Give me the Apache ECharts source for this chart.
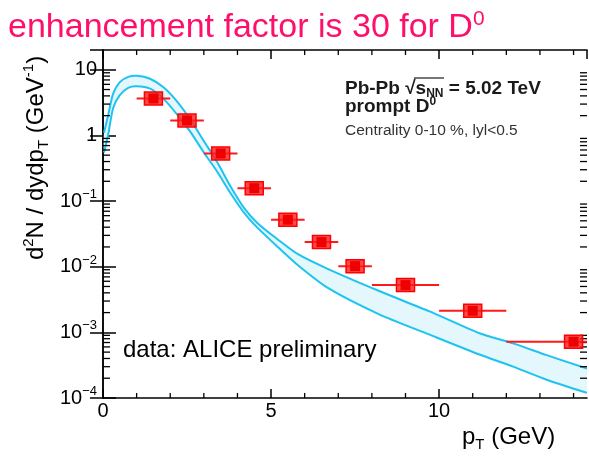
<!DOCTYPE html>
<html>
<head>
<meta charset="utf-8">
<script src="https://cdn.jsdelivr.net/npm/echarts@6/dist/echarts.min.js"></script>
<style>
html,body{margin:0;padding:0;background:#fff;}
#chart{width:589px;height:456px;}
</style>
</head>
<body>
<div id="chart"></div>
<script>
// ---- data ----
const binLo    = [1, 2, 3, 4, 5, 6, 7, 8, 10, 12];
const binHi    = [2, 3, 4, 5, 6, 7, 8, 10, 12, 16];
const binPt    = [1.5, 2.5, 3.5, 4.5, 5.5, 6.5, 7.5, 9, 11, 14];
const yieldD0  = [3.65, 1.69, 0.53, 0.157, 0.052, 0.0237, 0.0102, 0.00525, 0.00213, 0.00072];

const modelPt    = [0.03, 0.15, 0.3, 0.5, 0.75, 1.0, 1.4, 1.8, 2.2, 2.6, 3.0, 3.4, 3.8, 4.2, 4.6, 5.2, 5.8, 6.7, 8.2, 9.7, 11.2, 12.2, 13.2, 14.4];
const modelUpper = [1.1, 2.0, 4.3, 6.5, 7.8, 8.1, 7.3, 5.4, 3.3, 1.75, 0.82, 0.39, 0.165, 0.078, 0.046, 0.026, 0.0155, 0.0092, 0.0043, 0.0021, 0.00097, 0.00068, 0.00045, 0.00028];
const modelLower = [0.55, 1.0, 2.6, 4.1, 5.3, 5.6, 5.15, 3.6, 2.1, 1.13, 0.55, 0.28, 0.13, 0.066, 0.039, 0.020, 0.0105, 0.0047, 0.0019, 0.00093, 0.00046, 0.00030, 0.00019, 0.00012];

const xMin = 0, xMax = 14.4, xMajor = 5;
const yMin = 1e-4, yMax = 20;
const xMinorTicks = [1, 2, 3, 4, 6, 7, 8, 9, 11, 12, 13, 14];
const yDecades = [1e-4, 1e-3, 1e-2, 1e-1, 1, 10];
const yMinorMult = [2, 3, 4, 5, 6, 7, 8, 9];

const FONT = '"Liberation Sans", Arial, Helvetica, sans-serif';
const RED = '#ff0000';
const CYAN = '#1ec3f0';

const yMinorTicks = [];
yDecades.forEach(d => yMinorMult.forEach(m => { const v = d * m; if (v < yMax) yMinorTicks.push(v); }));

function yLabel(v) {
  const e = Math.round(Math.log10(v));
  if (Math.abs(Math.log10(v) - e) > 1e-6) return '';
  if (e === 0) return '1';
  if (e === 1) return '10';
  return '10{sup|\u2212' + (-e) + '}';
}

const chart = echarts.init(document.getElementById('chart'), null, {renderer: 'canvas'});

const axisLineStyle = {color: '#000', width: 1.5};

const option = {
  animation: false,
  backgroundColor: '#fff',
  grid: {left: 103, right: 2, top: 50, bottom: 58, containLabel: false},
  xAxis: [
    {
      type: 'value', position: 'bottom', min: xMin, max: xMax, interval: xMajor,
      axisLine: {show: true, lineStyle: axisLineStyle},
      axisTick: {show: true, inside: true, length: 9, lineStyle: {color: '#000', width: 1.5}},
      axisLabel: {
        show: true, margin: 3, fontSize: 20, fontFamily: FONT, color: '#000', showMaxLabel: false,
        formatter: v => (Math.abs(v % xMajor) < 1e-9 ? String(v) : '')
      },
      splitLine: {show: false}
    },
    {
      type: 'value', position: 'top', min: xMin, max: xMax, interval: xMajor,
      axisLine: {show: true, lineStyle: axisLineStyle},
      axisTick: {show: true, inside: true, length: 9, lineStyle: {color: '#000', width: 1.5}},
      axisLabel: {show: false},
      splitLine: {show: false}
    }
  ],
  yAxis: [
    {
      type: 'log', logBase: 10, position: 'left', min: yMin, max: yMax,
      axisLine: {show: true, lineStyle: axisLineStyle},
      axisTick: {show: true, inside: true, length: 13, lineStyle: {color: '#000', width: 1.5}},
      axisLabel: {
        show: true, margin: 6, fontSize: 20, fontFamily: FONT, color: '#000', showMaxLabel: false,
        lineHeight: 26,
        formatter: yLabel,
        rich: {sup: {fontSize: 13, fontFamily: FONT, color: '#000', verticalAlign: 'top', lineHeight: 14}}
      },
      splitLine: {show: false}
    },
    {
      type: 'log', logBase: 10, position: 'right', min: yMin, max: yMax,
      axisLine: {show: true, lineStyle: axisLineStyle},
      axisTick: {show: true, inside: true, length: 13, lineStyle: {color: '#000', width: 1.5}},
      axisLabel: {show: false},
      splitLine: {show: false}
    }
  ],
  series: [
    {
      type: 'custom', xAxisIndex: 0, yAxisIndex: 0, silent: true, z: 3,
      data: [0],
      renderItem: function (params, api) {
        const children = [];
        const st = {stroke: '#000', lineWidth: 1.3};
        yMinorTicks.forEach(v => {
          const pL = api.coord([xMin, v]);
          const pR = api.coord([xMax, v]);
          children.push({type: 'line', shape: {x1: pL[0], y1: pL[1], x2: pL[0] + 7, y2: pL[1]}, style: st});
          children.push({type: 'line', shape: {x1: pR[0], y1: pR[1], x2: pR[0] - 7, y2: pR[1]}, style: st});
        });
        xMinorTicks.forEach(v => {
          const pB = api.coord([v, yMin]);
          const pT = api.coord([v, yMax]);
          children.push({type: 'line', shape: {x1: pB[0], y1: pB[1], x2: pB[0], y2: pB[1] - 5}, style: st});
          children.push({type: 'line', shape: {x1: pT[0], y1: pT[1], x2: pT[0], y2: pT[1] + 5}, style: st});
        });
        return {type: 'group', children: children};
      }
    },
    {
      type: 'custom', xAxisIndex: 0, yAxisIndex: 0, silent: true, clip: true, z: 2,
      data: [0],
      renderItem: function (params, api) {
        const up = modelPt.map((x, i) => api.coord([x, modelUpper[i]]));
        const lo = modelPt.map((x, i) => api.coord([x, modelLower[i]]));
        const poly = up.concat(lo.slice().reverse());
        return {
          type: 'group',
          children: [
            {type: 'polygon', shape: {points: poly, smooth: 0.25}, style: {fill: '#e3f7fd', stroke: null}},
            {type: 'polyline', shape: {points: up, smooth: 0.25}, style: {fill: null, stroke: CYAN, lineWidth: 2}},
            {type: 'polyline', shape: {points: lo, smooth: 0.25}, style: {fill: null, stroke: CYAN, lineWidth: 2}}
          ]
        };
      }
    },
    {
      type: 'custom', xAxisIndex: 0, yAxisIndex: 0, silent: true, clip: true, z: 4,
      data: binPt.map((x, i) => [x, yieldD0[i], binLo[i], binHi[i]]),
      renderItem: function (params, api) {
        const c = api.coord([api.value(0), api.value(1)]);
        const l = api.coord([api.value(2), api.value(1)]);
        const r = api.coord([api.value(3), api.value(1)]);
        return {
          type: 'group',
          children: [
            {type: 'line', shape: {x1: l[0], y1: c[1], x2: r[0], y2: c[1]}, style: {stroke: '#ff1a1a', lineWidth: 2}},
            {type: 'rect', shape: {x: c[0] - 9, y: c[1] - 6.5, width: 18, height: 13}, style: {fill: 'rgba(255,30,30,0.8)', stroke: RED, lineWidth: 1.5}},
            {type: 'rect', shape: {x: c[0] - 5, y: c[1] - 5, width: 10, height: 10}, style: {fill: '#ee0000'}}
          ]
        };
      }
    }
  ],
  graphic: [
    {
      type: 'text', x: 8, y: 28, silent: true,
      style: {
        text: 'enhancement factor is 30 for D{sup|0}',
        fontSize: 34, fontFamily: FONT, fill: '#ff0f6c', verticalAlign: 'middle', align: 'left', lineHeight: 38,
        rich: {sup: {fontSize: 21, fontFamily: FONT, fill: '#ff0f6c', verticalAlign: 'top', lineHeight: 21}}
      }
    },
    {
      type: 'text', x: 36, y: 158, rotation: Math.PI / 2, silent: true,
      style: {
        text: 'd{sup|2}N / dydp{sub|T} (GeV{sup|-1})',
        fontSize: 24, fontFamily: FONT, fill: '#000', align: 'center', verticalAlign: 'middle', lineHeight: 30,
        rich: {
          sup: {fontSize: 15, fontFamily: FONT, fill: '#000', verticalAlign: 'top', lineHeight: 15},
          sub: {fontSize: 15, fontFamily: FONT, fill: '#000', verticalAlign: 'bottom', lineHeight: 15}
        }
      }
    },
    {
      type: 'text', x: 462, y: 437, silent: true,
      style: {
        text: 'p{sub|T} (GeV)',
        fontSize: 24, fontFamily: FONT, fill: '#000', align: 'left', verticalAlign: 'middle', lineHeight: 30,
        rich: {sub: {fontSize: 15, fontFamily: FONT, fill: '#000', verticalAlign: 'bottom', lineHeight: 15}}
      }
    },
    {
      type: 'text', x: 345, y: 89, silent: true,
      style: {
        text: 'Pb-Pb \u221As{sub|NN} = 5.02 TeV',
        fontSize: 19, fontWeight: 'bold', fontFamily: FONT, fill: '#1a1a1a', align: 'left', verticalAlign: 'middle', lineHeight: 22,
        rich: {sub: {fontSize: 12, fontWeight: 'bold', fontFamily: FONT, fill: '#1a1a1a', verticalAlign: 'bottom', lineHeight: 12}}
      }
    },
    {
      type: 'line', silent: true,
      shape: {x1: 414, y1: 78, x2: 444, y2: 78},
      style: {stroke: '#1a1a1a', lineWidth: 1.2}
    },
    {
      type: 'text', x: 345, y: 107, silent: true,
      style: {
        text: 'prompt D{sup|0}',
        fontSize: 19, fontWeight: 'bold', fontFamily: FONT, fill: '#1a1a1a', align: 'left', verticalAlign: 'middle', lineHeight: 22,
        rich: {sup: {fontSize: 12, fontWeight: 'bold', fontFamily: FONT, fill: '#1a1a1a', verticalAlign: 'top', lineHeight: 12}}
      }
    },
    {
      type: 'text', x: 345, y: 131, silent: true,
      style: {
        text: 'Centrality 0-10 %, lyl<0.5',
        fontSize: 15.5, fontFamily: FONT, fill: '#333', align: 'left', verticalAlign: 'middle'
      }
    },
    {
      type: 'text', x: 123, y: 350, silent: true,
      style: {
        text: 'data: ALICE preliminary',
        fontSize: 24, fontFamily: FONT, fill: '#000', align: 'left', verticalAlign: 'middle'
      }
    }
  ]
};
chart.setOption(option);
</script>
</body>
</html>
